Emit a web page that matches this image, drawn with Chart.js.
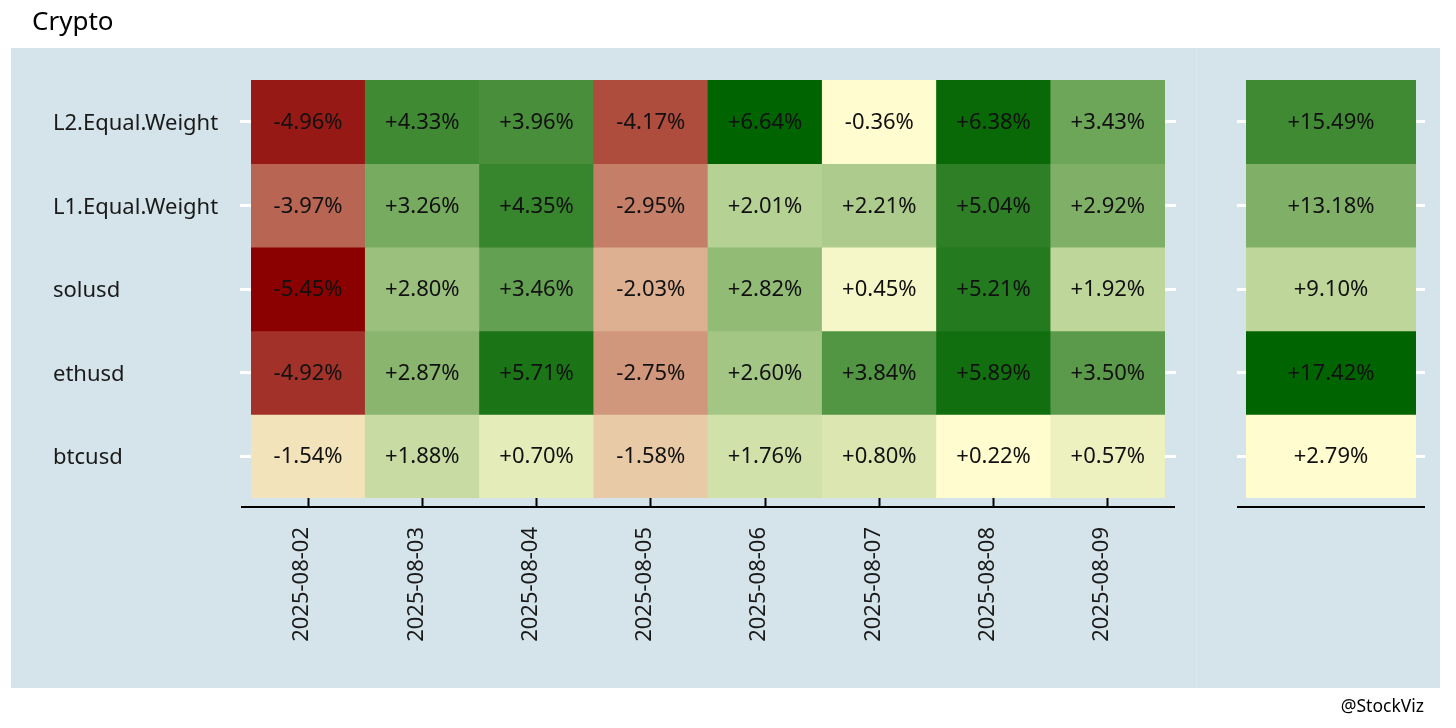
<!DOCTYPE html>
<html>
<head>
<meta charset="utf-8">
<script src="https://cdn.jsdelivr.net/npm/chart.js@4.4.0/dist/chart.umd.min.js"></script>
<style>
html,body{margin:0;padding:0;background:#ffffff;width:1456px;height:728px;overflow:hidden;font-family:"Noto Sans",sans-serif;}
#title{position:absolute;left:32px;top:7px;font-size:26px;line-height:26px;color:#000;white-space:nowrap;}
#caption{position:absolute;right:32px;top:697px;font-size:17.5px;line-height:17.5px;color:#000;white-space:nowrap;}
.panel{position:absolute;top:48px;height:640px;background:#d5e3ea;}
#pl{left:11px;width:1185px;}
#pd{left:1196px;width:1px;background:#dde8ee;}
#pr{left:1197px;width:243px;}
#w1{position:absolute;left:0;top:0;width:1196px;height:728px;}
#w2{position:absolute;left:1196px;top:0;width:260px;height:728px;}
</style>
</head>
<body>
<div class="panel" id="pl"></div>
<div class="panel" id="pd"></div>
<div class="panel" id="pr"></div>
<div id="w1"><canvas id="c1" width="1196" height="728"></canvas></div>
<div id="w2"><canvas id="c2" width="260" height="728"></canvas></div>
<div id="title">Crypto</div>
<div id="caption">@StockViz</div>
<script>
// ---- data ----
const dates = ['2025-08-02','2025-08-03','2025-08-04','2025-08-05','2025-08-06','2025-08-07','2025-08-08','2025-08-09'];
const rows = ['L2.Equal.Weight','L1.Equal.Weight','solusd','ethusd','btcusd'];
const l2Equal = [-4.96, 4.33, 3.96, -4.17, 6.64, -0.36, 6.38, 3.43];
const l1Equal = [-3.97, 3.26, 4.35, -2.95, 2.01, 2.21, 5.04, 2.92];
const solusd  = [-5.45, 2.80, 3.46, -2.03, 2.82, 0.45, 5.21, 1.92];
const ethusd  = [-4.92, 2.87, 5.71, -2.75, 2.60, 3.84, 5.89, 3.50];
const btcusd  = [-1.54, 1.88, 0.70, -1.58, 1.76, 0.80, 0.22, 0.57];
const totals  = [15.49, 13.18, 9.10, 17.42, 2.79];
const rowValues = [l2Equal, l1Equal, solusd, ethusd, btcusd];

// ---- colour scale (rank based within negatives / positives, RGB interpolation) ----
const LOW = [139,0,0], MID = [255,252,207], HIGH = [0,100,0];
function mix(a,b,t){
  const c=a.map((v,k)=>Math.round(v+(b[k]-v)*t));
  return 'rgb('+c[0]+','+c[1]+','+c[2]+')';
}
function divergingRankColor(all){
  const neg=all.filter(v=>v<0).sort((a,b)=>b-a);   // closest to zero first
  const pos=all.filter(v=>v>=0).sort((a,b)=>a-b);
  return v=>{
    if(v<0) return mix(MID,LOW,neg.indexOf(v)/(neg.length-1));
    return mix(MID,HIGH,pos.indexOf(v)/(pos.length-1));
  };
}
function seqRankColor(all){
  const sorted=[...all].sort((a,b)=>a-b);
  return v=>mix(MID,HIGH,sorted.indexOf(v)/(sorted.length-1));
}
const leftColor = divergingRankColor(rowValues.flat());
const rightColor = seqRankColor(totals);

const fmt = v => (v>=0?'+':'') + v.toFixed(2) + '%';
const FONT = '"Noto Sans", sans-serif';

const cellLabels = {
  id:'cellLabels',
  afterDatasetsDraw(chart){
    const ctx=chart.ctx;
    ctx.save();
    ctx.font='22px '+FONT;
    ctx.fillStyle='#111';
    ctx.textAlign='center';
    ctx.textBaseline='middle';
    chart.data.datasets.forEach((ds,di)=>{
      chart.getDatasetMeta(di).data.forEach((el,j)=>{
        const p=el.getCenterPoint();
        ctx.fillText(fmt(ds.values[j]),p.x,p.y+1);
      });
    });
    ctx.restore();
  }
};
const axisLine = {
  id:'axisLine',
  afterDraw(chart,args,opts){
    const a=chart.chartArea, ctx=chart.ctx;
    ctx.save();
    ctx.fillStyle='#000';
    ctx.fillRect(a.left-opts.ext, a.bottom+8, a.right-a.left+2*opts.ext, 2);
    ctx.restore();
  }
};

function rowTicks(scale){ scale.ticks = rows.map((_,r)=>({value:r+0.5})); }
const rowLabel = v => rows[Math.round(4.5 - v)];

// ---- left chart ----
new Chart(document.getElementById('c1'), {
  type:'bar',
  data:{
    labels:dates,
    datasets: rows.map((name,r)=>({
      label:name,
      values:rowValues[r],
      data:rowValues[r].map(()=>[4-r,5-r]),
      backgroundColor:rowValues[r].map(v=>leftColor(v)),
      borderWidth:0,
      borderSkipped:false,
      barPercentage:1,
      categoryPercentage:1,
      grouped:false
    }))
  },
  options:{
    responsive:false,
    animation:false,
    layout:{padding:{left:53,top:80,right:0,bottom:0}},
    plugins:{legend:{display:false},tooltip:{enabled:false},axisLine:{ext:10}},
    scales:{
      x:{
        type:'category',
        offset:true,
        border:{display:false},
        grid:{offset:false,drawOnChartArea:false,drawTicks:true,tickLength:9,tickColor:'#000',tickWidth:2},
        ticks:{autoSkip:false,minRotation:90,maxRotation:90,padding:20,labelOffset:-6,color:'#1a1a1a',font:{family:FONT,size:22}},
        afterFit:s=>{s.height=230;}
      },
      y:{
        type:'linear',position:'left',min:0,max:5,
        border:{display:false},
        grid:{drawOnChartArea:false,drawTicks:true,tickLength:11,tickColor:'#ffffff',tickWidth:3},
        afterBuildTicks:rowTicks,
        ticks:{autoSkip:false,crossAlign:'far',labelOffset:2,color:'#1a1a1a',font:{family:FONT,size:22},callback:rowLabel},
        afterFit:s=>{s.width=198;}
      },
      y2:{
        type:'linear',position:'right',min:0,max:5,
        border:{display:false},
        grid:{drawOnChartArea:false,drawTicks:true,tickLength:11,tickColor:'#ffffff',tickWidth:3},
        afterBuildTicks:rowTicks,
        ticks:{display:false},
        afterFit:s=>{s.width=31;}
      }
    }
  },
  plugins:[cellLabels,axisLine]
});

// ---- right chart (totals) ----
new Chart(document.getElementById('c2'), {
  type:'bar',
  data:{
    labels:[''],
    datasets: rows.map((name,r)=>({
      label:name,
      values:[totals[r]],
      data:[[4-r,5-r]],
      backgroundColor:[rightColor(totals[r])],
      borderWidth:0,
      borderSkipped:false,
      barPercentage:1,
      categoryPercentage:1,
      grouped:false
    }))
  },
  options:{
    responsive:false,
    animation:false,
    layout:{padding:{left:0,top:80,right:0,bottom:0}},
    plugins:{legend:{display:false},tooltip:{enabled:false},axisLine:{ext:9}},
    scales:{
      x:{
        type:'category',offset:true,
        border:{display:false},
        grid:{display:false},
        ticks:{display:false},
        afterFit:s=>{s.height=230;}
      },
      y:{
        type:'linear',position:'left',min:0,max:5,
        border:{display:false},
        grid:{drawOnChartArea:false,drawTicks:true,tickLength:9,tickColor:'#ffffff',tickWidth:3},
        afterBuildTicks:rowTicks,
        ticks:{display:false},
        afterFit:s=>{s.width=50;}
      },
      y2:{
        type:'linear',position:'right',min:0,max:5,
        border:{display:false},
        grid:{drawOnChartArea:false,drawTicks:true,tickLength:9,tickColor:'#ffffff',tickWidth:3},
        afterBuildTicks:rowTicks,
        ticks:{display:false},
        afterFit:s=>{s.width=40;}
      }
    }
  },
  plugins:[cellLabels,axisLine]
});
</script>
</body>
</html>
